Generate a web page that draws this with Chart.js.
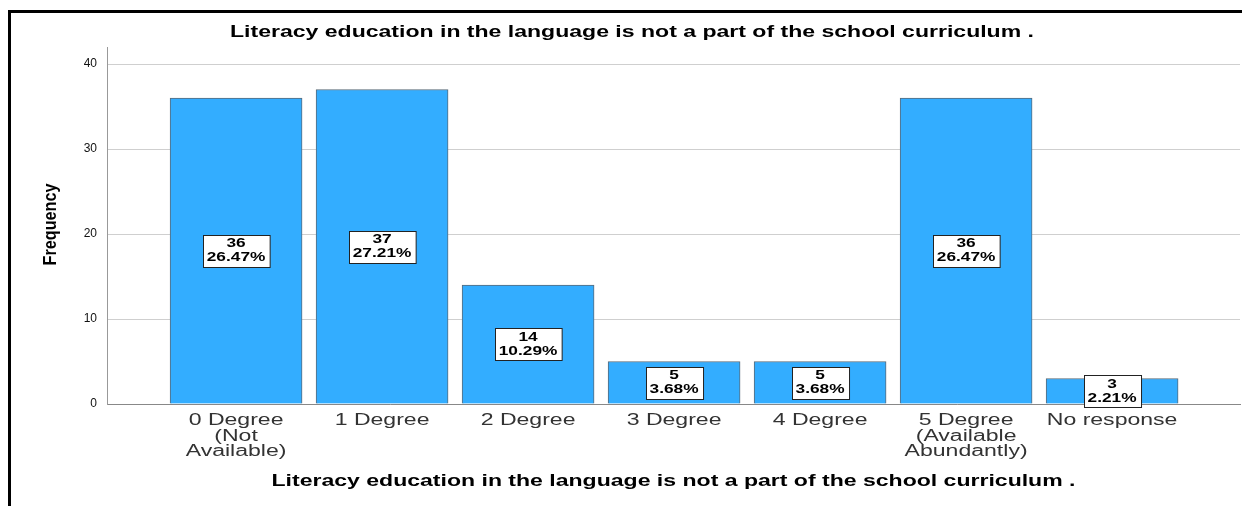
<!DOCTYPE html>
<html>
<head>
<meta charset="utf-8">
<script src="https://cdn.jsdelivr.net/npm/chart.js@4.4.0/dist/chart.umd.min.js"></script>
<style>
  html, body { margin: 0; padding: 0; background: #fff; }
  #wrap { width: 1242px; height: 506px; position: relative; }
</style>
</head>
<body>
<div id="wrap"><canvas id="c" width="1242" height="506"></canvas></div>
<script>
const chartTitle = "Literacy education in the language is not a part of the school curriculum ."
const categories = [
    ["0 Degree", "(Not", "Available)"],
    ["1 Degree"],
    ["2 Degree"],
    ["3 Degree"],
    ["4 Degree"],
    ["5 Degree", "(Available", "Abundantly)"],
    ["No response"]
]
const frequency = [36, 37, 14, 5, 5, 36, 3]
const percents = ["26.47%", "27.21%", "10.29%", "3.68%", "3.68%", "26.47%", "2.21%"]
const yTicks = [0, 10, 20, 30, 40]

const barBlue = "#33adff"
const FONT = "'Liberation Sans', Arial, sans-serif"

// text drawn wider (or narrower), like the SPSS export
function wideText(ctx, text, x, y, sx) {
    ctx.save()
    ctx.translate(x, y)
    ctx.scale(sx, 1)
    ctx.fillText(text, 0, 0)
    ctx.restore()
}

// frame, titles, category labels
const decorPlugin = {
    id: "decor",
    beforeDraw(chart) {
        const ctx = chart.ctx
        ctx.save()
        ctx.fillStyle = "#fff"
        ctx.fillRect(0, 0, chart.width, chart.height)
        ctx.fillStyle = "#000"
        ctx.fillRect(8, 10, 3, chart.height - 10)
        ctx.fillRect(8, 10, chart.width - 8, 3)
        ctx.restore()
    },
    afterDraw(chart) {
        const ctx = chart.ctx
        const area = chart.chartArea
        const xs = chart.scales.x
        ctx.save()
        ctx.textAlign = "center"

        ctx.fillStyle = "#333"
        ctx.textBaseline = "alphabetic"
        ctx.font = "16px " + FONT
        categories.forEach((lines, i) => {
            const px = xs.getPixelForValue(i)
            lines.forEach((t, k) => wideText(ctx, t, px, 425 + k * 15.5, 1.44))
        })

        ctx.fillStyle = "#000"
        ctx.textBaseline = "middle"
        ctx.font = "bold 16px " + FONT
        wideText(ctx, chartTitle, 632, 33, 1.44)
        wideText(ctx, chartTitle, (area.left + area.right) / 2, 482, 1.44)

        // y title: tall, condensed
        ctx.translate(51, (area.top + area.bottom) / 2 - 1)
        ctx.rotate(-Math.PI / 2)
        ctx.font = "bold 18px " + FONT
        wideText(ctx, "Frequency", 0, 0, 0.9)
        ctx.restore()
    }
}

// white value boxes
const boxPlugin = {
    id: "boxes",
    afterDatasetsDraw(chart) {
        const ctx = chart.ctx
        const meta = chart.getDatasetMeta(0)
        const sx = 1.33
        ctx.save()
        ctx.font = "bold 13px " + FONT
        ctx.textAlign = "center"
        ctx.textBaseline = "middle"
        meta.data.forEach((bar, i) => {
            const l1 = String(frequency[i])
            const l2 = percents[i]
            const w = Math.max(ctx.measureText(l1).width, ctx.measureText(l2).width) * sx + 8
            const h = 32
            const cy = (bar.y + bar.base) / 2
            const x0 = Math.round(bar.x - w / 2) + 0.5
            const y0 = Math.round(cy - h / 2) + 0.5
            ctx.fillStyle = "#fff"
            ctx.fillRect(x0, y0, w, h)
            ctx.strokeStyle = "#222"
            ctx.lineWidth = 1
            ctx.strokeRect(x0, y0, w, h)
            ctx.fillStyle = "#000"
            wideText(ctx, l1, bar.x, cy - 7, sx)
            wideText(ctx, l2, bar.x, cy + 7, sx)
        })
        ctx.restore()
    }
}

new Chart(document.getElementById("c"), {
    type: "bar",
    data: {
        datasets: [{
            data: frequency.map((v, i) => ({ x: i, y: v })),
            backgroundColor: barBlue,
            borderColor: "#5a6a78",
            borderWidth: 1,
            barThickness: 132
        }]
    },
    options: {
        responsive: false,
        animation: false,
        layout: { padding: { top: 47, right: 2, left: 0, bottom: 0 } },
        plugins: { legend: { display: false }, tooltip: { enabled: false } },
        scales: {
            x: {
                type: "linear",
                offset: false,
                min: -0.884,
                max: 6.876,
                afterBuildTicks(scale) {
                    scale.ticks = categories.map((c, i) => ({ value: i }))
                },
                afterFit(scale) { scale.height = 102 },
                grid: { display: false },
                border: { color: "#888", width: 1 },
                ticks: { display: false }
            },
            y: {
                min: 0,
                max: 42,
                afterBuildTicks(scale) {
                    scale.ticks = yTicks.map(v => ({ value: v }))
                },
                afterFit(scale) { scale.width = 107 },
                grid: { color: "#cfcfcf", drawTicks: false },
                border: { color: "#999", width: 1 },
                ticks: {
                    padding: 10,
                    color: "#111",
                    font: { family: FONT, size: 12 }
                }
            }
        }
    },
    plugins: [decorPlugin, boxPlugin]
})
</script>
</body>
</html>
